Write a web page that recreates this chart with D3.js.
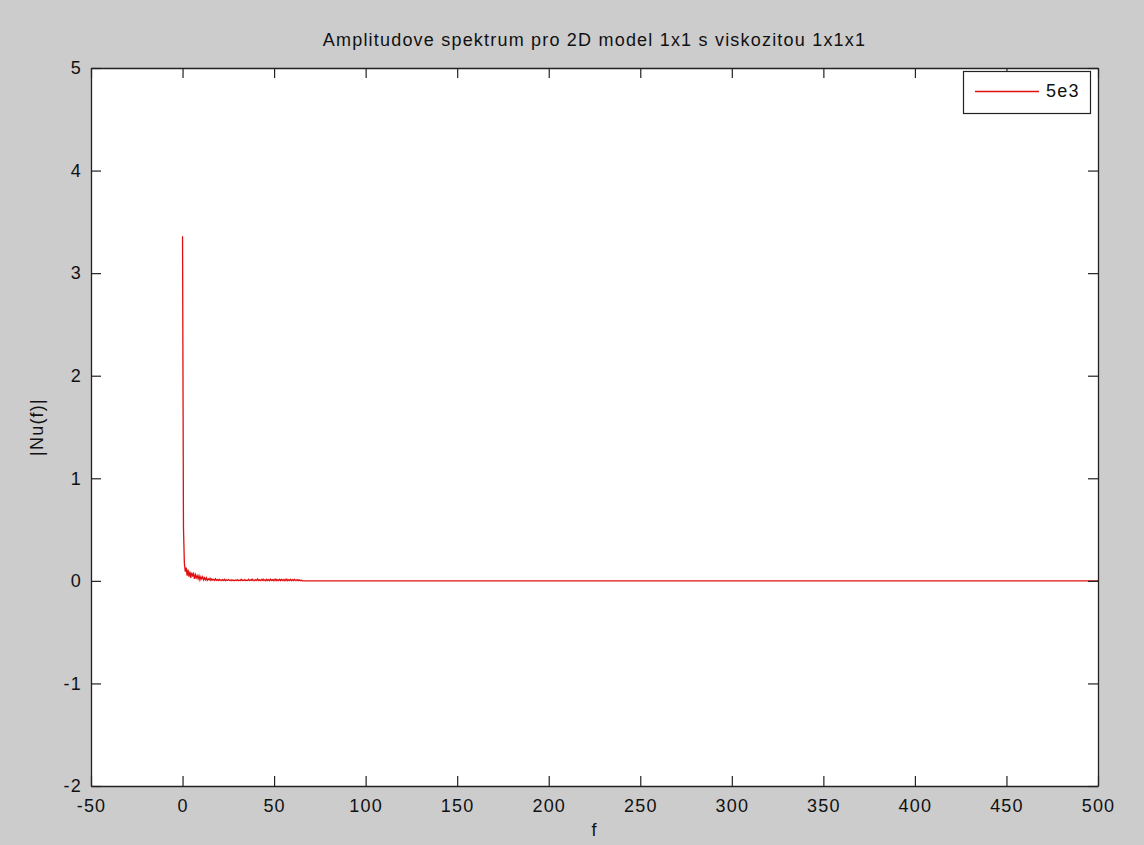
<!DOCTYPE html>
<html>
<head>
<meta charset="utf-8">
<script src="https://cdn.jsdelivr.net/npm/d3@7/dist/d3.min.js"></script>
<style>
  html, body { margin: 0; padding: 0; background: #cccccc; }
  svg { display: block; }
  text { font-family: "Liberation Sans", Arial, Helvetica, sans-serif; fill: #111; }
</style>
</head>
<body>
<svg id="chart" width="1144" height="845"></svg>
<script>
// Chart text
const titleText = "Amplitudove spektrum pro 2D model 1x1 s viskozitou 1x1x1";
const xLabelText = "f";
const yLabelText = "|Nu(f)|";
const legendLabel = "5e3";

// Axis ranges and tick values
const xDomain = [-50, 500];
const yDomain = [-2, 5];
const xTicks = [-50, 0, 50, 100, 150, 200, 250, 300, 350, 400, 450, 500];
const yTicks = [-2, -1, 0, 1, 2, 3, 4, 5];

// Amplitude spectrum |Nu(f)|, sampled every df from f = 0
const df = 0.5;
const amplitude = [
  3.36, 0.52, 0.17, 0.09, 0.13, 0.05, 0.11, 0.04, 0.09, 0.03,
  0.08, 0.05, 0.07, 0.02, 0.06, 0.03, 0.05, 0.02, 0.05, 0.01,
  0.04, 0.02, 0.04, 0.01, 0.03, 0.01, 0.03, 0.005, 0.02, 0.01,
  0.025, 0.005, 0.02, 0.008, 0.015, 0.004, 0.02, 0.006, 0.012, 0.003,
  0.015, 0.005, 0.01, 0.003, 0.012, 0.004, 0.015, 0.002, 0.01, 0.004,
  0.012, 0.003, 0.008, 0.002, 0.01, 0.004, 0.006, 0.002, 0.008, 0.003,
  0.012, 0.002, 0.006, 0.003, 0.015, 0.002, 0.008, 0.004, 0.012, 0.002,
  0.006, 0.003, 0.014, 0.002, 0.01, 0.004, 0.016, 0.003, 0.008, 0.002,
  0.012, 0.004, 0.018, 0.003, 0.01, 0.002, 0.014, 0.004, 0.016, 0.003,
  0.01, 0.002, 0.015, 0.003, 0.012, 0.002, 0.016, 0.004, 0.012, 0.002,
  0.014, 0.003, 0.016, 0.002, 0.012, 0.003, 0.014, 0.002, 0.015, 0.003,
  0.012, 0.002, 0.014, 0.003, 0.016, 0.002, 0.012, 0.003, 0.014, 0.002,
  0.012, 0.003, 0.014, 0.002, 0.01, 0.003, 0.012, 0.002, 0.008, 0.002,
  0.006
];
// Flat remainder of the spectrum out to the Nyquist limit
const tailFreq = [65.5, 500];
const tailAmp = [0, 0];

const spectrum = amplitude.map((a, i) => ({ f: i * df, a }))
  .concat(tailFreq.map((f, i) => ({ f, a: tailAmp[i] })));

// Layout
const plot = { left: 91, top: 68, right: 1098, bottom: 786 };
const fontSize = "18px";
const spacing = "1.2px";
const svg = d3.select("#chart");

const x = d3.scaleLinear().domain(xDomain).range([plot.left, plot.right]);
const y = d3.scaleLinear().domain(yDomain).range([plot.bottom, plot.top]);

// Plot background
svg.append("rect")
  .attr("x", plot.left).attr("y", plot.top)
  .attr("width", plot.right - plot.left).attr("height", plot.bottom - plot.top)
  .attr("fill", "#ffffff");

// Spectrum line, clipped to the axes box
svg.append("clipPath").attr("id", "plotClip")
  .append("rect")
  .attr("x", plot.left).attr("y", plot.top)
  .attr("width", plot.right - plot.left).attr("height", plot.bottom - plot.top);

const line = d3.line().x(d => x(d.f)).y(d => y(d.a));
svg.append("path")
  .datum(spectrum)
  .attr("clip-path", "url(#plotClip)")
  .attr("d", line)
  .attr("fill", "none")
  .attr("stroke", "#e01010")
  .attr("stroke-width", 1.3)
  .attr("stroke-linejoin", "miter");

// Axes: ticks point inward and are mirrored on the opposite sides
const tickLen = 10;
const fmt = d => String(d);
const labelStyle = sel => sel.selectAll("text")
  .style("font-size", fontSize)
  .style("letter-spacing", spacing)
  .attr("fill", "#111");

const axisBottom = svg.append("g")
  .attr("transform", `translate(0,${plot.bottom})`)
  .call(d3.axisBottom(x).tickValues(xTicks).tickFormat(fmt)
    .tickSizeInner(-tickLen).tickSizeOuter(0).tickPadding(13));
const axisTop = svg.append("g")
  .attr("transform", `translate(0,${plot.top})`)
  .call(d3.axisTop(x).tickValues(xTicks).tickFormat("")
    .tickSizeInner(-tickLen).tickSizeOuter(0));
const axisLeft = svg.append("g")
  .attr("transform", `translate(${plot.left},0)`)
  .call(d3.axisLeft(y).tickValues(yTicks).tickFormat(fmt)
    .tickSizeInner(-tickLen).tickSizeOuter(0).tickPadding(9));
const axisRight = svg.append("g")
  .attr("transform", `translate(${plot.right},0)`)
  .call(d3.axisRight(y).tickValues(yTicks).tickFormat("")
    .tickSizeInner(-tickLen).tickSizeOuter(0));

[axisBottom, axisTop, axisLeft, axisRight].forEach(g => {
  g.select(".domain").attr("stroke", "#222").attr("stroke-width", 1.3);
  g.selectAll(".tick line").attr("stroke", "#222").attr("stroke-width", 1.2);
  labelStyle(g);
});
axisBottom.selectAll("text").attr("dy", "0.71em");

// Title and axis labels
svg.append("text")
  .attr("x", (plot.left + plot.right) / 2).attr("y", 46)
  .attr("text-anchor", "middle")
  .style("font-size", fontSize).style("letter-spacing", spacing)
  .text(titleText);

svg.append("text")
  .attr("x", (plot.left + plot.right) / 2).attr("y", 836)
  .attr("text-anchor", "middle")
  .style("font-size", fontSize).style("letter-spacing", spacing)
  .text(xLabelText);

svg.append("text")
  .attr("transform", `translate(43,${(plot.top + plot.bottom) / 2}) rotate(-90)`)
  .attr("text-anchor", "middle")
  .style("font-size", fontSize).style("letter-spacing", spacing)
  .text(yLabelText);

// Legend
const legend = svg.append("g");
legend.append("rect")
  .attr("x", 963.5).attr("y", 71.5).attr("width", 127).attr("height", 42)
  .attr("fill", "#ffffff").attr("stroke", "#222").attr("stroke-width", 1.2);
legend.append("line")
  .attr("x1", 975).attr("x2", 1039).attr("y1", 91.5).attr("y2", 91.5)
  .attr("stroke", "#e01010").attr("stroke-width", 1.3);
legend.append("text")
  .attr("x", 1046).attr("y", 97)
  .style("font-size", fontSize).style("letter-spacing", spacing)
  .text(legendLabel);
</script>
</body>
</html>
